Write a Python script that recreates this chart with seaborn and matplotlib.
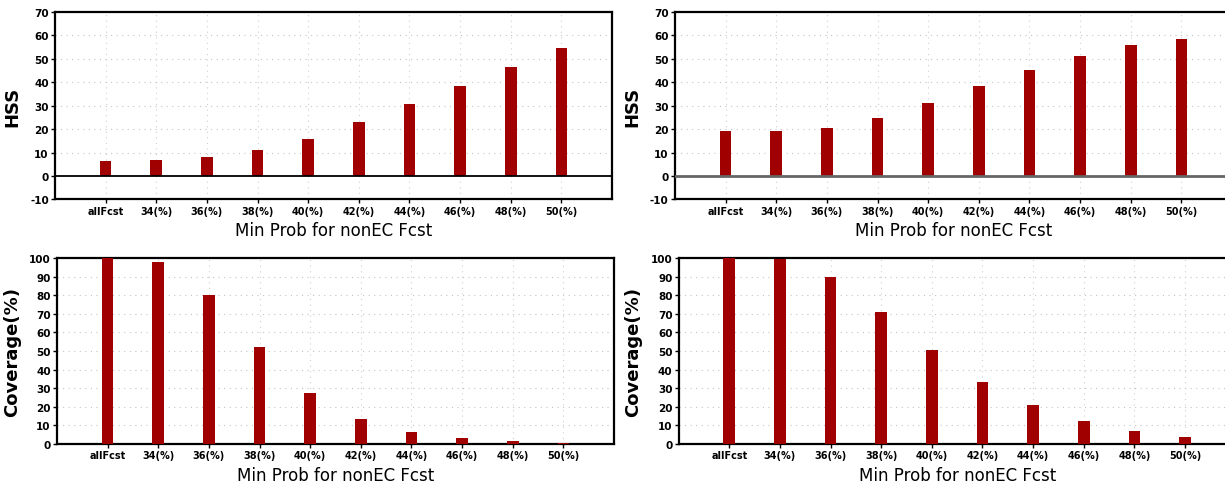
import matplotlib
matplotlib.use('Agg')
import matplotlib.pyplot as plt
import pandas as pd
import seaborn as sns

# categories along the x axis
categories = ['allFcst', '34(%)', '36(%)', '38(%)', '40(%)',
              '42(%)', '44(%)', '46(%)', '48(%)', '50(%)']

# HSS values (top row)
hss_left = [6.5, 7.0, 8.3, 11.2, 15.7, 23.0, 30.7, 38.3, 46.5, 54.6]
hss_right = [19.0, 19.0, 20.5, 24.8, 31.0, 38.4, 45.1, 51.0, 55.8, 58.3]

# coverage values (bottom row)
cov_left = [100.0, 98.0, 80.0, 52.0, 27.5, 13.3, 6.5, 3.0, 1.5, 0.7]
cov_right = [100.0, 99.5, 90.0, 71.0, 50.5, 33.5, 21.0, 12.5, 7.0, 3.5]

sns.set_style('ticks')
plt.rcParams['font.family'] = ['DejaVu Sans']
plt.rcParams['text.color'] = 'black'
plt.rcParams['axes.labelcolor'] = 'black'
plt.rcParams['xtick.color'] = 'black'
plt.rcParams['ytick.color'] = 'black'

bar_color = '#a00000'

fig = plt.figure(figsize=(12.25, 4.89), dpi=100)

panels = [
    # (position, values, ylabel, ylim, yticks, zero line color)
    ([0.0449, 0.590, 0.4547, 0.384], hss_left, 'HSS', (-10, 70), range(-10, 71, 10), 'black'),
    ([0.551, 0.590, 0.4547, 0.384], hss_right, 'HSS', (-10, 70), range(-10, 71, 10), '#666666'),
    ([0.0465, 0.090, 0.4547, 0.380], cov_left, 'Coverage(%)', (0, 100), range(0, 101, 10), None),
    ([0.554, 0.090, 0.4547, 0.380], cov_right, 'Coverage(%)', (0, 100), range(0, 101, 10), None),
]

for pos, vals, ylab, ylim, yticks, zcol in panels:
    ax = fig.add_axes(pos)
    df = pd.DataFrame({'cat': categories, 'val': vals})
    sns.barplot(data=df, x='cat', y='val', color=bar_color, saturation=1,
                width=0.23, edgecolor='none', ax=ax, zorder=3)
    ax.set_xlim(-1, 10)
    ax.set_ylim(*ylim)
    ax.set_yticks(list(yticks))
    ax.set_yticklabels([str(t) for t in yticks], fontsize=7.5, fontweight='bold')
    ax.set_xticks(range(len(categories)))
    ax.set_xticklabels(categories, fontsize=7, fontweight='bold')
    # dotted grid
    for t in yticks:
        if t not in (ylim[0], ylim[1], 0):
            ax.axhline(t, color='#c4c4c4', lw=0.8, ls=(0, (1, 4)), zorder=1)
    for i in range(len(categories)):
        ax.axvline(i, color='#d0d0d0', lw=0.8, ls=(0, (1, 4)), zorder=1)
    if zcol is not None:
        ax.axhline(0, color=zcol, lw=1.3 if zcol == 'black' else 2.0, zorder=4)
    for s in ax.spines.values():
        s.set_linewidth(1.6)
        s.set_color('black')
        s.set_visible(True)
    ax.tick_params(axis='both', direction='out', length=3, width=1, pad=1.5,
                   bottom=True, left=True, top=False, right=False)
    ax.set_ylabel(ylab, fontsize=13, fontweight='bold', labelpad=6)
    ax.set_xlabel('Min Prob for nonEC Fcst', fontsize=12, labelpad=4)

fig.savefig('out.png', dpi=100)
